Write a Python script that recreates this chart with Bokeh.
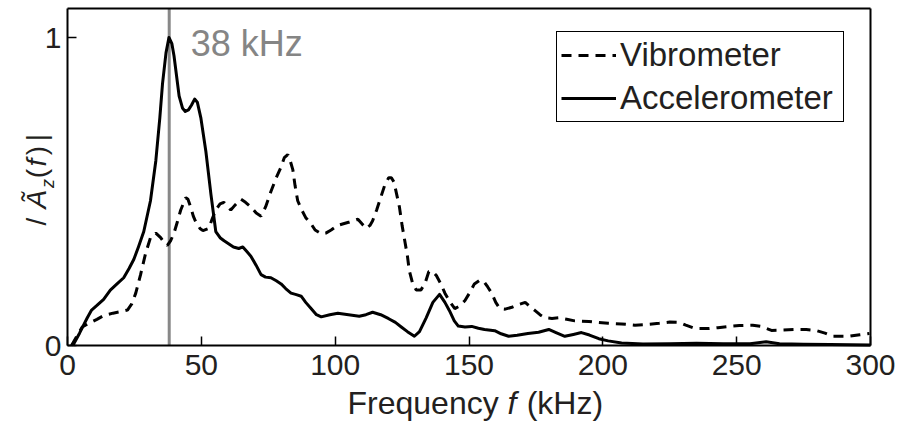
import math
from bokeh.plotting import figure
from bokeh.models import Label, FixedTicker, Range1d, LinearAxis
from bokeh.embed import file_html
from bokeh.resources import INLINE

# ---------------- data ----------------
freq_vib = [1.5, 3.5, 5.5, 8, 11, 13.5, 17, 20, 22.4, 24, 25.5, 27.3, 29.2, 31, 33, 34.8, 36, 37.3,
            38.5, 39.8, 41, 42.3, 44.2, 45, 46, 47, 48, 49.5, 50.6, 52.8, 54, 55.4, 57, 58.4, 60,
            61, 62.5, 64.8, 66.5, 68.5, 70.5, 72.3, 74, 76, 78, 79.8, 81, 82.3, 83.2, 84.2, 85, 86,
            87.5, 89, 91, 92.5, 94.8, 96.5, 98.5, 101, 105, 108.5, 110, 111.6, 113, 114, 115.5, 117,
            118.5, 120, 121, 122, 123, 124, 125, 126, 127, 127.7, 129, 130.3, 132, 133.5, 135,
            136.5, 137.8, 139.5, 141, 143, 144.7, 146.5, 148.5, 150.5, 152, 154, 155.4, 157, 158.5,
            160, 161.5, 163.5, 166, 168.5, 171, 173, 174.7, 176.5, 178.3, 181, 183.5, 186.5, 189.5,
            194.8, 198, 202, 207, 212, 216, 221, 225, 228.5, 231, 234.5, 239.7, 243, 247, 251, 256,
            259, 263, 267, 272, 276, 279.5, 283, 285.8, 289, 292, 296, 299.6]
amp_vib = [0.0, 0.03, 0.06, 0.072, 0.085, 0.097, 0.105, 0.11, 0.115, 0.135, 0.17, 0.23, 0.30, 0.35,
           0.365, 0.35, 0.335, 0.325, 0.34, 0.365, 0.4, 0.44, 0.48, 0.475, 0.45, 0.42, 0.40, 0.38,
           0.373, 0.38, 0.41, 0.44, 0.46, 0.465, 0.45, 0.44, 0.455, 0.475, 0.465, 0.45, 0.43, 0.42,
           0.45, 0.50, 0.545, 0.58, 0.61, 0.62, 0.60, 0.57, 0.52, 0.47, 0.44, 0.415, 0.395, 0.375,
           0.363, 0.365, 0.375, 0.39, 0.40, 0.41, 0.395, 0.38, 0.39, 0.405, 0.44, 0.48, 0.52, 0.545,
           0.545, 0.53, 0.49, 0.45, 0.39, 0.34, 0.29, 0.243, 0.20, 0.18, 0.18, 0.20, 0.24, 0.24,
           0.227, 0.20, 0.17, 0.14, 0.12, 0.128, 0.146, 0.175, 0.20, 0.212, 0.21, 0.19, 0.17, 0.14,
           0.12, 0.118, 0.124, 0.133, 0.14, 0.125, 0.113, 0.10, 0.09, 0.088, 0.09, 0.085, 0.08,
           0.078, 0.075, 0.072, 0.07, 0.066, 0.068, 0.072, 0.076, 0.075, 0.066, 0.055, 0.055, 0.058,
           0.062, 0.065, 0.066, 0.062, 0.049, 0.05, 0.052, 0.052, 0.049, 0.04, 0.03, 0.03, 0.03,
           0.035, 0.039]

freq_acc = [2, 4.5, 7.4, 9, 11, 13.5, 16, 18.5, 21, 23, 24.8, 26.5, 28.5, 31, 33, 34.5, 35.5, 36.8,
            37.9, 39, 39.8, 41.7, 43, 44, 45.2, 46.3, 47.5, 48.5, 49.8, 51.7, 53.6, 55.4, 57, 58.5,
            62, 64, 65.5, 67, 68.5, 70.5, 72.3, 74, 76, 78, 79.8, 81.5, 83.5, 85.5, 87.3, 89, 91,
            93, 94.8, 98, 101, 105, 109, 111.5, 114, 117, 120, 122.5, 124.7, 127, 129.6, 131.5, 134,
            136.5, 139, 141, 142.7, 144.5, 146, 148.5, 151, 153.5, 155.8, 159.6, 162, 164.8, 168,
            172, 176, 179.8, 182.5, 185.8, 189, 192, 195, 198.5, 202, 207, 215, 225, 235, 245, 255,
            261, 266, 275, 285, 300]
amp_acc = [0.0, 0.04, 0.09, 0.115, 0.13, 0.15, 0.18, 0.2, 0.22, 0.25, 0.28, 0.32, 0.37, 0.47, 0.6,
           0.74, 0.85, 0.95, 1.0, 0.98, 0.94, 0.81, 0.77, 0.76, 0.765, 0.78, 0.80, 0.79, 0.74, 0.63,
           0.49, 0.37, 0.35, 0.34, 0.32, 0.315, 0.32, 0.305, 0.29, 0.26, 0.23, 0.222, 0.22, 0.21,
           0.2, 0.185, 0.17, 0.165, 0.16, 0.14, 0.12, 0.1, 0.093, 0.1, 0.105, 0.1, 0.095, 0.1,
           0.108, 0.1, 0.087, 0.075, 0.06, 0.045, 0.03, 0.045, 0.09, 0.14, 0.166, 0.14, 0.113,
           0.08, 0.063, 0.06, 0.062, 0.056, 0.052, 0.048, 0.038, 0.03, 0.033, 0.039, 0.043, 0.052,
           0.042, 0.03, 0.036, 0.042, 0.034, 0.022, 0.015, 0.008, 0.005, 0.006, 0.007, 0.006,
           0.006, 0.012, 0.006, 0.004, 0.003, 0.002]

peak_freq = 38
peak_label = "38 kHz"
series_names = ["Vibrometer", "Accelerometer"]
x_ticks = [0, 50, 100, 150, 200, 250, 300]
y_ticks = [0, 1]
x_max = 300

# ---------------- layout (pixel geometry of the axes box) ----------------
W, H = 900, 424
X0_PX, XMAX_PX = 67, 870          # x = 0 and x = 300
Y0_PX, Y1_PX, TOP_PX = 345, 37, 8  # y = 0, y = 1, top of box
PXK = (XMAX_PX - X0_PX) / x_max
PXA = float(Y0_PX - Y1_PX)
A_TOP = (Y0_PX - TOP_PX) / PXA
FONT = "Liberation Sans"
INK = "#231f20"
BASE_SHIFT = 0.33   # em; bokeh draws an "alphabetic" label this far below its anchor


def fx(px):
    return (px - X0_PX) / PXK


def fy(py):
    return (Y0_PX - py) / PXA


# the frame fills the whole canvas so that every text can live inside it;
# the axes are pinned to the data box with fixed_location
p = figure(width=W, height=H, output_backend="svg", toolbar_location=None,
           x_range=Range1d(fx(0), fx(W)), y_range=Range1d(fy(H), fy(0)),
           min_border=0, min_border_left=0, min_border_right=0,
           min_border_top=0, min_border_bottom=0)
p.background_fill_color = "white"
p.border_fill_color = "white"
p.outline_line_color = None
p.grid.visible = False

xa, ya = p.xaxis[0], p.yaxis[0]
xa.fixed_location = 0
xa.bounds = (0, x_max)
ya.fixed_location = 0
ya.bounds = (0, A_TOP)
for ax in (xa, ya):
    ax.axis_line_width = 2
    ax.axis_line_color = "black"
    ax.major_tick_in = 9
    ax.major_tick_out = 0
    ax.major_tick_line_width = 1.5
    ax.major_tick_line_color = "black"
    ax.minor_tick_line_color = None
    ax.major_label_text_font = FONT
    ax.major_label_text_font_size = "30px"
    ax.major_label_text_color = INK
xa.ticker = FixedTicker(ticks=x_ticks)
ya.ticker = FixedTicker(ticks=y_ticks)
xa.major_label_standoff = 9
ya.major_label_standoff = 6

# top and right edges of the box
top_ax = LinearAxis(fixed_location=A_TOP, bounds=(0, x_max), ticker=FixedTicker(ticks=[]),
                    axis_line_width=2, axis_line_color="black",
                    major_tick_line_color=None, minor_tick_line_color=None)
right_ax = LinearAxis(fixed_location=x_max, bounds=(0, A_TOP), ticker=FixedTicker(ticks=[]),
                      axis_line_width=2, axis_line_color="black",
                      major_tick_line_color=None, minor_tick_line_color=None)
p.add_layout(top_ax, "above")
p.add_layout(right_ax, "right")

# 38 kHz marker
p.segment(x0=[peak_freq], y0=[0], x1=[peak_freq], y1=[A_TOP], line_color="#888888",
          line_width=3)

p.line(freq_vib, amp_vib, line_color="black", line_width=3, line_dash="10 7",
       legend_label=series_names[0])
p.line(freq_acc, amp_acc, line_color="black", line_width=3, line_join="round",
       legend_label=series_names[1])

p.add_layout(Label(x=peak_freq + 8, y=fy(55 - BASE_SHIFT * 36), text=peak_label,
                   text_font=FONT, text_font_size="36px", text_color="#858585",
                   text_align="left", text_baseline="alphabetic"))

# legend
lg = p.legend[0]
lg.location = (556, H - 122)
lg.margin = 0
lg.padding = 4
lg.spacing = 5
lg.glyph_width = 55
lg.glyph_height = 30
lg.label_height = 30
lg.label_width = 219
lg.label_standoff = 4
lg.label_text_font = FONT
lg.label_text_font_size = "33px"
lg.label_text_color = INK
lg.border_line_color = "black"
lg.border_line_alpha = 1
lg.border_line_width = 1.5
lg.background_fill_alpha = 1

# x axis title (with italic f)
xl_base = fy(413 - BASE_SHIFT * 32)
xl_parts = [("Frequency", 347, "normal"), ("f", 347 + 5.002 * 32, "italic"),
            ("(kHz)", 347 + 5.6 * 32, "normal")]
for txt, ix, style in xl_parts:
    p.add_layout(Label(x=fx(ix), y=xl_base, text=txt, text_font=FONT, text_font_size="32px",
                       text_font_style=style, text_color=INK, text_align="left",
                       text_baseline="alphabetic"))

# y axis title |Ã_z(f)| built from rotated pieces
yl_parts = [("/", 221, "normal", 28, 45), ("Ã", 199, "italic", 28, 45),
            ("z", 183, "italic", 18, 53), ("(", 173, "normal", 28, 45),
            ("f", 162, "italic", 28, 45), (")", 150, "normal", 28, 45),
            ("|", 137, "normal", 28, 45)]
for txt, iy, style, size, bx in yl_parts:
    p.add_layout(Label(x=fx(bx - BASE_SHIFT * size), y=fy(iy), text=txt, text_font=FONT,
                       text_font_size=f"{size}px", text_font_style=style, text_color=INK,
                       text_align="center", text_baseline="alphabetic", angle=math.pi / 2))

open("out.html", "w").write(file_html(p, INLINE))
